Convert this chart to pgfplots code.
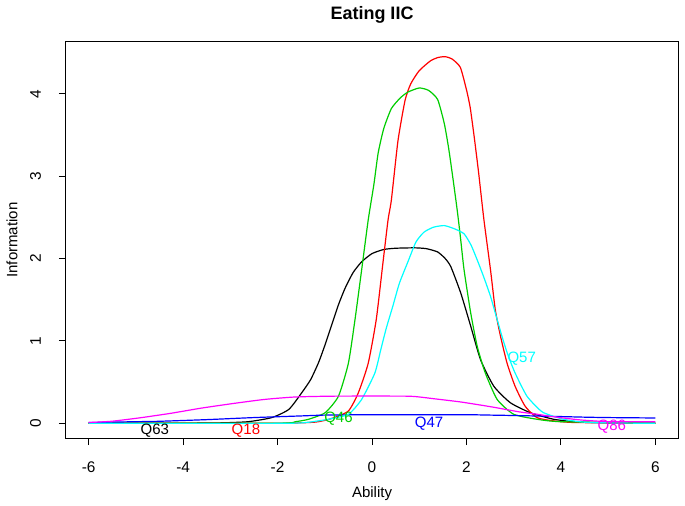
\documentclass[border=0pt]{standalone}
\usepackage{fontspec}
\setmainfont{Liberation Sans}
\usepackage{pgfplots}
\pgfplotsset{compat=1.18}
\definecolor{rgreen}{HTML}{00CD00}
\definecolor{rcyan}{HTML}{00FFFF}
\definecolor{rmag}{HTML}{FF00FF}
\definecolor{rred}{HTML}{FF0000}
\definecolor{rblue}{HTML}{0000FF}
\begin{document}
\begin{tikzpicture}
\begin{axis}[
  scale only axis, width=306pt, height=198pt,
  xmin=-6.48, xmax=6.48, ymin=-0.178, ymax=4.628,
  xtick={-6,-4,-2,0,2,4,6}, ytick={0,1,2,3,4},
  xtick pos=left, ytick pos=left,
  tick align=outside, major tick length=3.5pt,
  tick style={black, line width=0.5pt},
  axis line style={black, line width=0.5pt},
  font=\fontsize{7.5}{9}\selectfont,
  ticklabel style={font=\fontsize{7.7}{9}\selectfont},
  /pgf/number format/assume math mode=true,
  yticklabel style={rotate=90, anchor=south},
  xticklabel shift=5pt, yticklabel shift=5.5pt,
  xlabel={Ability}, ylabel={Information},
  xlabel style={at={(axis description cs:0.5,-0.1414)}, anchor=center},
  ylabel style={at={(axis description cs:-0.0882,0.5)}, anchor=center, rotate=0},
  title={Eating IIC},
  every axis title shift=0pt,
  title style={at={(axis description cs:0.5,1.068)}, anchor=center, font=\bfseries\fontsize{9}{10.8}\selectfont},
  every axis plot/.append style={line width=0.6pt, no markers, smooth, tension=0.35},
  clip=true,
]
% Q63 black
\addplot[black] coordinates {(-6,0.0) (-4,0.002) (-3.2,0.006) (-2.62,0.02) (-2.12,0.07) (-1.76,0.17) (-1.49,0.37) (-1.3,0.53) (-1.13,0.74) (-0.99,0.96) (-0.85,1.2) (-0.71,1.44) (-0.57,1.64) (-0.4,1.83) (-0.22,1.96) (0.0,2.06) (0.25,2.11) (0.5,2.125) (0.9,2.13) (1.15,2.12) (1.39,2.08) (1.55,2.0) (1.67,1.90) (1.88,1.58) (2.09,1.18) (2.3,0.77) (2.58,0.45) (2.93,0.25) (3.35,0.13) (3.84,0.05) (4.3,0.02) (5,0.005) (6,0.002)};
% Q18 red
\addplot[rred] coordinates {(-6,0) (-2,0.002) (-1.2,0.015) (-0.85,0.06) (-0.5,0.15) (-0.29,0.37) (-0.08,0.73) (0.09,1.26) (0.23,1.94) (0.34,2.47) (0.41,2.71) (0.55,3.43) (0.7,3.92) (0.82,4.12) (1.0,4.28) (1.24,4.4) (1.4,4.44) (1.55,4.45) (1.7,4.42) (1.87,4.32) (2.0,4.05) (2.08,3.83) (2.17,3.45) (2.26,3.03) (2.37,2.47) (2.51,1.86) (2.61,1.38) (2.72,1.06) (2.86,0.73) (3.03,0.45) (3.24,0.21) (3.49,0.07) (3.84,0.03) (4.3,0.01) (6,0.002)};
% Q46 green
\addplot[rgreen] coordinates {(-6,0) (-2,0.002) (-1.62,0.02) (-1.34,0.05) (-0.99,0.13) (-0.71,0.33) (-0.5,0.73) (-0.36,1.26) (-0.22,1.86) (-0.08,2.47) (0.04,2.9) (0.13,3.28) (0.25,3.58) (0.41,3.82) (0.6,3.95) (0.76,4.02) (1.0,4.07) (1.2,4.04) (1.39,3.93) (1.53,3.64) (1.62,3.35) (1.70,3.03) (1.79,2.65) (1.84,2.42) (1.88,2.22) (1.95,1.86) (2.09,1.34) (2.23,0.93) (2.4,0.61) (2.65,0.29) (3.0,0.11) (3.49,0.05) (4,0.02) (6,0.003)};
% Q47 blue
\addplot[rblue] coordinates {(-6,0.01) (-5,0.02) (-4.5,0.025) (-3.5,0.045) (-2.5,0.07) (-1.5,0.09) (-1,0.1) (0,0.105) (1,0.105) (2,0.105) (2.5,0.1) (3,0.095) (3.8,0.085) (4.5,0.075) (5,0.07) (6,0.065)};
% Q57 cyan
\addplot[rcyan] coordinates {(-6,0) (-2,0.0) (-1.4,0.01) (-0.92,0.05) (-0.5,0.11) (-0.22,0.29) (0.06,0.61) (0.18,0.88) (0.3,1.15) (0.44,1.42) (0.58,1.7) (0.76,1.96) (0.93,2.2) (1.1,2.32) (1.3,2.38) (1.53,2.40) (1.75,2.36) (1.95,2.30) (2.1,2.16) (2.23,1.98) (2.37,1.77) (2.51,1.54) (2.63,1.3) (2.75,1.06) (2.86,0.86) (3.0,0.65) (3.14,0.48) (3.28,0.33) (3.45,0.22) (3.63,0.13) (4.05,0.05) (4.6,0.01) (6,0.0)};
% Q86 magenta
\addplot[rmag] coordinates {(-6,0.01) (-5.52,0.025) (-4.94,0.065) (-4.28,0.12) (-3.61,0.185) (-2.95,0.24) (-2.28,0.29) (-1.62,0.32) (-0.79,0.33) (0.71,0.33) (1.0,0.32) (1.29,0.30) (1.87,0.26) (2.53,0.20) (3.11,0.14) (3.5,0.11) (3.78,0.085) (4.12,0.06) (4.44,0.04) (5.02,0.02) (6,0.02)};
\node[text=black] at (axis cs:-4.6,-0.093) {Q63};
\node[text=rred] at (axis cs:-2.67,-0.093) {Q18};
\node[text=rgreen] at (axis cs:-0.71,0.057) {Q46};
\node[text=rblue] at (axis cs:1.21,0.0) {Q47};
\node[text=rcyan] at (axis cs:3.17,0.78) {Q57};
\node[text=rmag] at (axis cs:5.08,-0.04) {Q86};
\end{axis}
\pgfresetboundingbox
\path (-33pt,-33.5pt) rectangle (309.5pt,219pt);
\end{tikzpicture}
\end{document}
